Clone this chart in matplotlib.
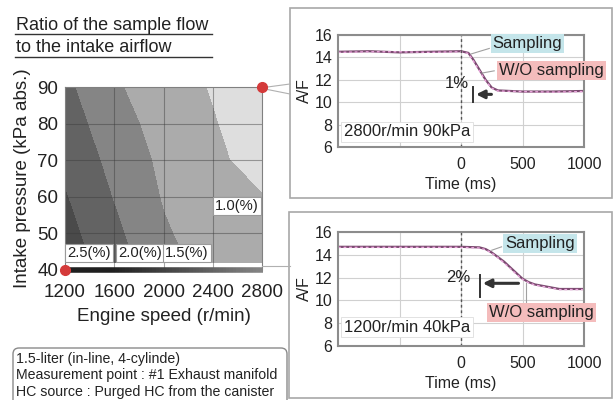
import numpy as np
import matplotlib.pyplot as plt
from matplotlib.collections import LineCollection
from matplotlib.patches import Rectangle, FancyBboxPatch

plt.rcParams['font.family'] = ['Liberation Sans', 'DejaVu Sans']

# contour map: ratio of sample flow to intake airflow (%)
speed = [1200, 1600, 2000, 2400, 2800]
pressure = [42, 50, 60, 70, 80, 90]
ratio = [[2.78, 2.22, 1.67, 1.30, 1.15],
         [2.67, 2.11, 1.56, 1.24, 1.10],
         [2.53, 1.97, 1.46, 1.17, 1.02],
         [2.39, 1.84, 1.39, 1.10, 0.81],
         [2.25, 1.70, 1.31, 1.03, 0.74],
         [2.11, 1.56, 1.24, 0.96, 0.67]]
ratio_levels = [0.0, 1.0, 1.5, 2.0, 2.5, 4.0]
band_text = ['2.5(%)', '2.0(%)', '1.5(%)', '1.0(%)']

# A/F transients
t_hi = [-1000, -750, -500, -250, 0, 60, 100, 150, 200, 250, 300, 500, 750, 1000]
af_hi_wo = [14.5, 14.55, 14.45, 14.5, 14.55, 14.4, 13.8, 12.9, 12.0, 11.3, 11.05, 10.95, 10.95, 11.0]
af_hi_samp = [14.45, 14.5, 14.5, 14.45, 14.5, 14.35, 13.7, 12.8, 11.9, 11.25, 11.0, 10.95, 10.9, 10.95]
t_lo = [-1000, -500, 0, 150, 200, 250, 300, 350, 400, 450, 500, 550, 600, 700, 800, 1000]
af_lo_wo = [14.7, 14.7, 14.7, 14.65, 14.5, 14.2, 13.8, 13.4, 12.9, 12.4, 11.9, 11.6, 11.4, 11.2, 11.0, 11.0]
af_lo_samp = [14.65, 14.65, 14.65, 14.6, 14.45, 14.15, 13.75, 13.3, 12.8, 12.3, 11.85, 11.55, 11.35, 11.15, 10.95, 10.95]

fig = plt.figure(figsize=(6.15, 4), dpi=100)

# background layer in pixel coordinates
bg = fig.add_axes([0, 0, 1, 1], zorder=0)
bg.set_xlim(0, 615); bg.set_ylim(400, 0); bg.axis('off')
bg.add_patch(Rectangle((290, 8), 322, 190, fc='white', ec='#a8a8a8', lw=1.2))
bg.add_patch(Rectangle((289, 212), 323, 186, fc='white', ec='#a8a8a8', lw=1.2))
bg.add_patch(FancyBboxPatch((13, 348), 274, 60, boxstyle='round,pad=0,rounding_size=6',
                            fc='white', ec='#8a8a8a', lw=1.0))
bg.text(16, 30, 'Ratio of the sample flow', fontsize=13, color='#222222')
bg.plot([15, 212], [34, 34], color='#333333', lw=1)
bg.text(16, 52, 'to the intake airflow', fontsize=13, color='#222222')
bg.plot([15, 212], [57, 57], color='#333333', lw=1)
notes = ['1.5-liter (in-line, 4-cylinde)',
         'Measurement point : #1 Exhaust manifold',
         'HC source : Purged HC from the canister']
for i, s in enumerate(notes):
    bg.text(16, 363 + 16.5 * i, s, fontsize=10.2, color='#222222')

# left contour map
ax = fig.add_axes([65/615, 130/400, 197/615, 183/400], zorder=2)
ax.contourf(speed, pressure, ratio, levels=ratio_levels,
            colors=['#dedede', '#ababab', '#858585', '#636363', '#4a4a4a'])
for n in [1600, 2000, 2400]:
    ax.axvline(n, color='#3a3a3a', lw=0.8, alpha=0.45)
for p in [50, 60, 70, 80]:
    ax.axhline(p, color='#3a3a3a', lw=0.8, alpha=0.45)
ax.set_xlim(1200, 2800); ax.set_ylim(40, 90)
ax.set_xticks([1200, 1600, 2000, 2400, 2800])
ax.set_yticks([40, 50, 60, 70, 80, 90])
ax.tick_params(axis='x', length=0, labelsize=13.5, pad=10, colors='#222222')
ax.tick_params(axis='y', length=0, labelsize=13.5, pad=5, colors='#222222')
for side in ['left', 'top', 'right']:
    ax.spines[side].set_color('#808080')
ax.spines['bottom'].set_visible(False)
ax.set_xlabel('Engine speed (r/min)', fontsize=13.5, color='#222222', labelpad=5)
ax.set_ylabel('Intake pressure (kPa abs.)', fontsize=13.5, color='#222222', labelpad=4)
box = dict(boxstyle='square,pad=0.15', fc='white', ec='#9a9a9a', lw=0.8)
for s, x, y in zip(band_text, [1216, 1630, 2012, 2418], [44.6, 44.6, 44.6, 57.5]):
    ax.text(x, y, s, fontsize=10.6, va='center', color='#222222', bbox=box)


def panel(rect, t, wo, samp, cond, pct, arrow, samp_pos, wo_pos, leaders):
    a = fig.add_axes(rect, zorder=2)
    a.plot(t, wo, color='#7b4a70', lw=1.6)
    a.plot(t, samp, color='#eaa6dc', lw=1.0, ls=(0, (2, 2)))
    a.set_xlim(-1000, 1000); a.set_ylim(6, 16)
    a.set_xticks([-500, 0, 500, 1000])
    a.set_xticklabels(['', '0', '500', '1000'])
    a.set_yticks([6, 8, 10, 12, 14, 16])
    a.grid(color='#d0d0d0', lw=0.8)
    a.axvline(0, color='#555555', lw=1.0, ls=(0, (2, 2)))
    for sp in a.spines.values():
        sp.set_color('#8c8c8c'); sp.set_linewidth(1.5)
    a.tick_params(axis='x', length=0, labelsize=11.5, pad=7, colors='#222222')
    a.tick_params(axis='y', length=0, labelsize=11.5, pad=4, colors='#222222')
    a.set_xlabel('Time (ms)', fontsize=11.5, color='#222222', labelpad=4)
    a.set_ylabel('A/F', fontsize=11.5, color='#222222', labelpad=2)
    for (x0, y0, x1, y1) in leaders:
        a.plot([x0, x1], [y0, y1], color='#a0a0a0', lw=0.8)
    x_tip, x_tail, y_ar, y_b0, y_b1 = arrow
    a.annotate('', xy=(x_tip, y_ar), xytext=(x_tail, y_ar),
               arrowprops=dict(arrowstyle='-|>', color='#333333', lw=2.2, mutation_scale=12))
    a.plot([x_tip, x_tip], [y_b0, y_b1], color='#333333', lw=1.4)
    a.text(pct[0], pct[1], pct[2], fontsize=12, ha='center', va='center', color='#222222')
    a.text(samp_pos[0], samp_pos[1], 'Sampling', fontsize=12, ha='center', va='center',
           color='#222222', bbox=dict(boxstyle='square,pad=0.12', fc='#c4e5ea', ec='none'))
    a.text(wo_pos[0], wo_pos[1], 'W/O sampling', fontsize=12, ha='center', va='center',
           color='#222222', bbox=dict(boxstyle='square,pad=0.12', fc='#f4bcbc', ec='none'))
    a.text(-440, cond[1], cond[0], fontsize=12, ha='center', va='center', color='#222222',
           bbox=dict(boxstyle='square,pad=0.15', fc='white', ec='#dddddd', lw=0.6))
    return a


panel([338/615, 253/400, 246/615, 112/400], t_hi, af_hi_wo, af_hi_samp,
      ('2800r/min 90kPa', 7.35), (-30, 11.7, '1%'), (100, 270, 10.7, 10.0, 11.4),
      (541, 15.2), (738, 12.8), [(80, 14.3, 230, 14.8), (170, 12.6, 270, 12.8)])
panel([338/615, 54/400, 246/615, 114/400], t_lo, af_lo_wo, af_lo_samp,
      ('1200r/min 40kPa', 7.65), (-25, 12.05, '2%'), (155, 490, 11.5, 10.3, 12.2),
      (640, 14.95), (655, 8.98), [(250, 14.4, 330, 14.7), (530, 11.5, 530, 9.6)])

# foreground callouts
fg = fig.add_axes([0, 0, 1, 1], zorder=5)
fg.set_xlim(0, 615); fg.set_ylim(400, 0); fg.axis('off')
xs = np.linspace(65, 263, 60)
segs = [[(xs[i], 270), (xs[i + 1], 270)] for i in range(len(xs) - 1)]
grad = np.clip(np.linspace(-0.3, 1, len(segs)), 0, 1)
cols = [(0.12 + 0.4 * g, 0.12 + 0.4 * g, 0.12 + 0.4 * g) for g in grad]
fg.add_collection(LineCollection(segs, colors=cols, lw=4))
fg.plot([262, 290], [266, 266], color='#b0b0b0', lw=0.8)
fg.plot([260, 290], [88, 84], color='#b0b0b0', lw=0.8)
fg.plot([260, 290], [88, 94], color='#b0b0b0', lw=0.8)
fg.plot([2800], [90], 'o', color='#d43a3a', ms=7, transform=ax.transData, clip_on=False)
fg.plot([1200], [40], 'o', color='#d43a3a', ms=7, transform=ax.transData, clip_on=False)

fig.savefig('out.png', dpi=100)
